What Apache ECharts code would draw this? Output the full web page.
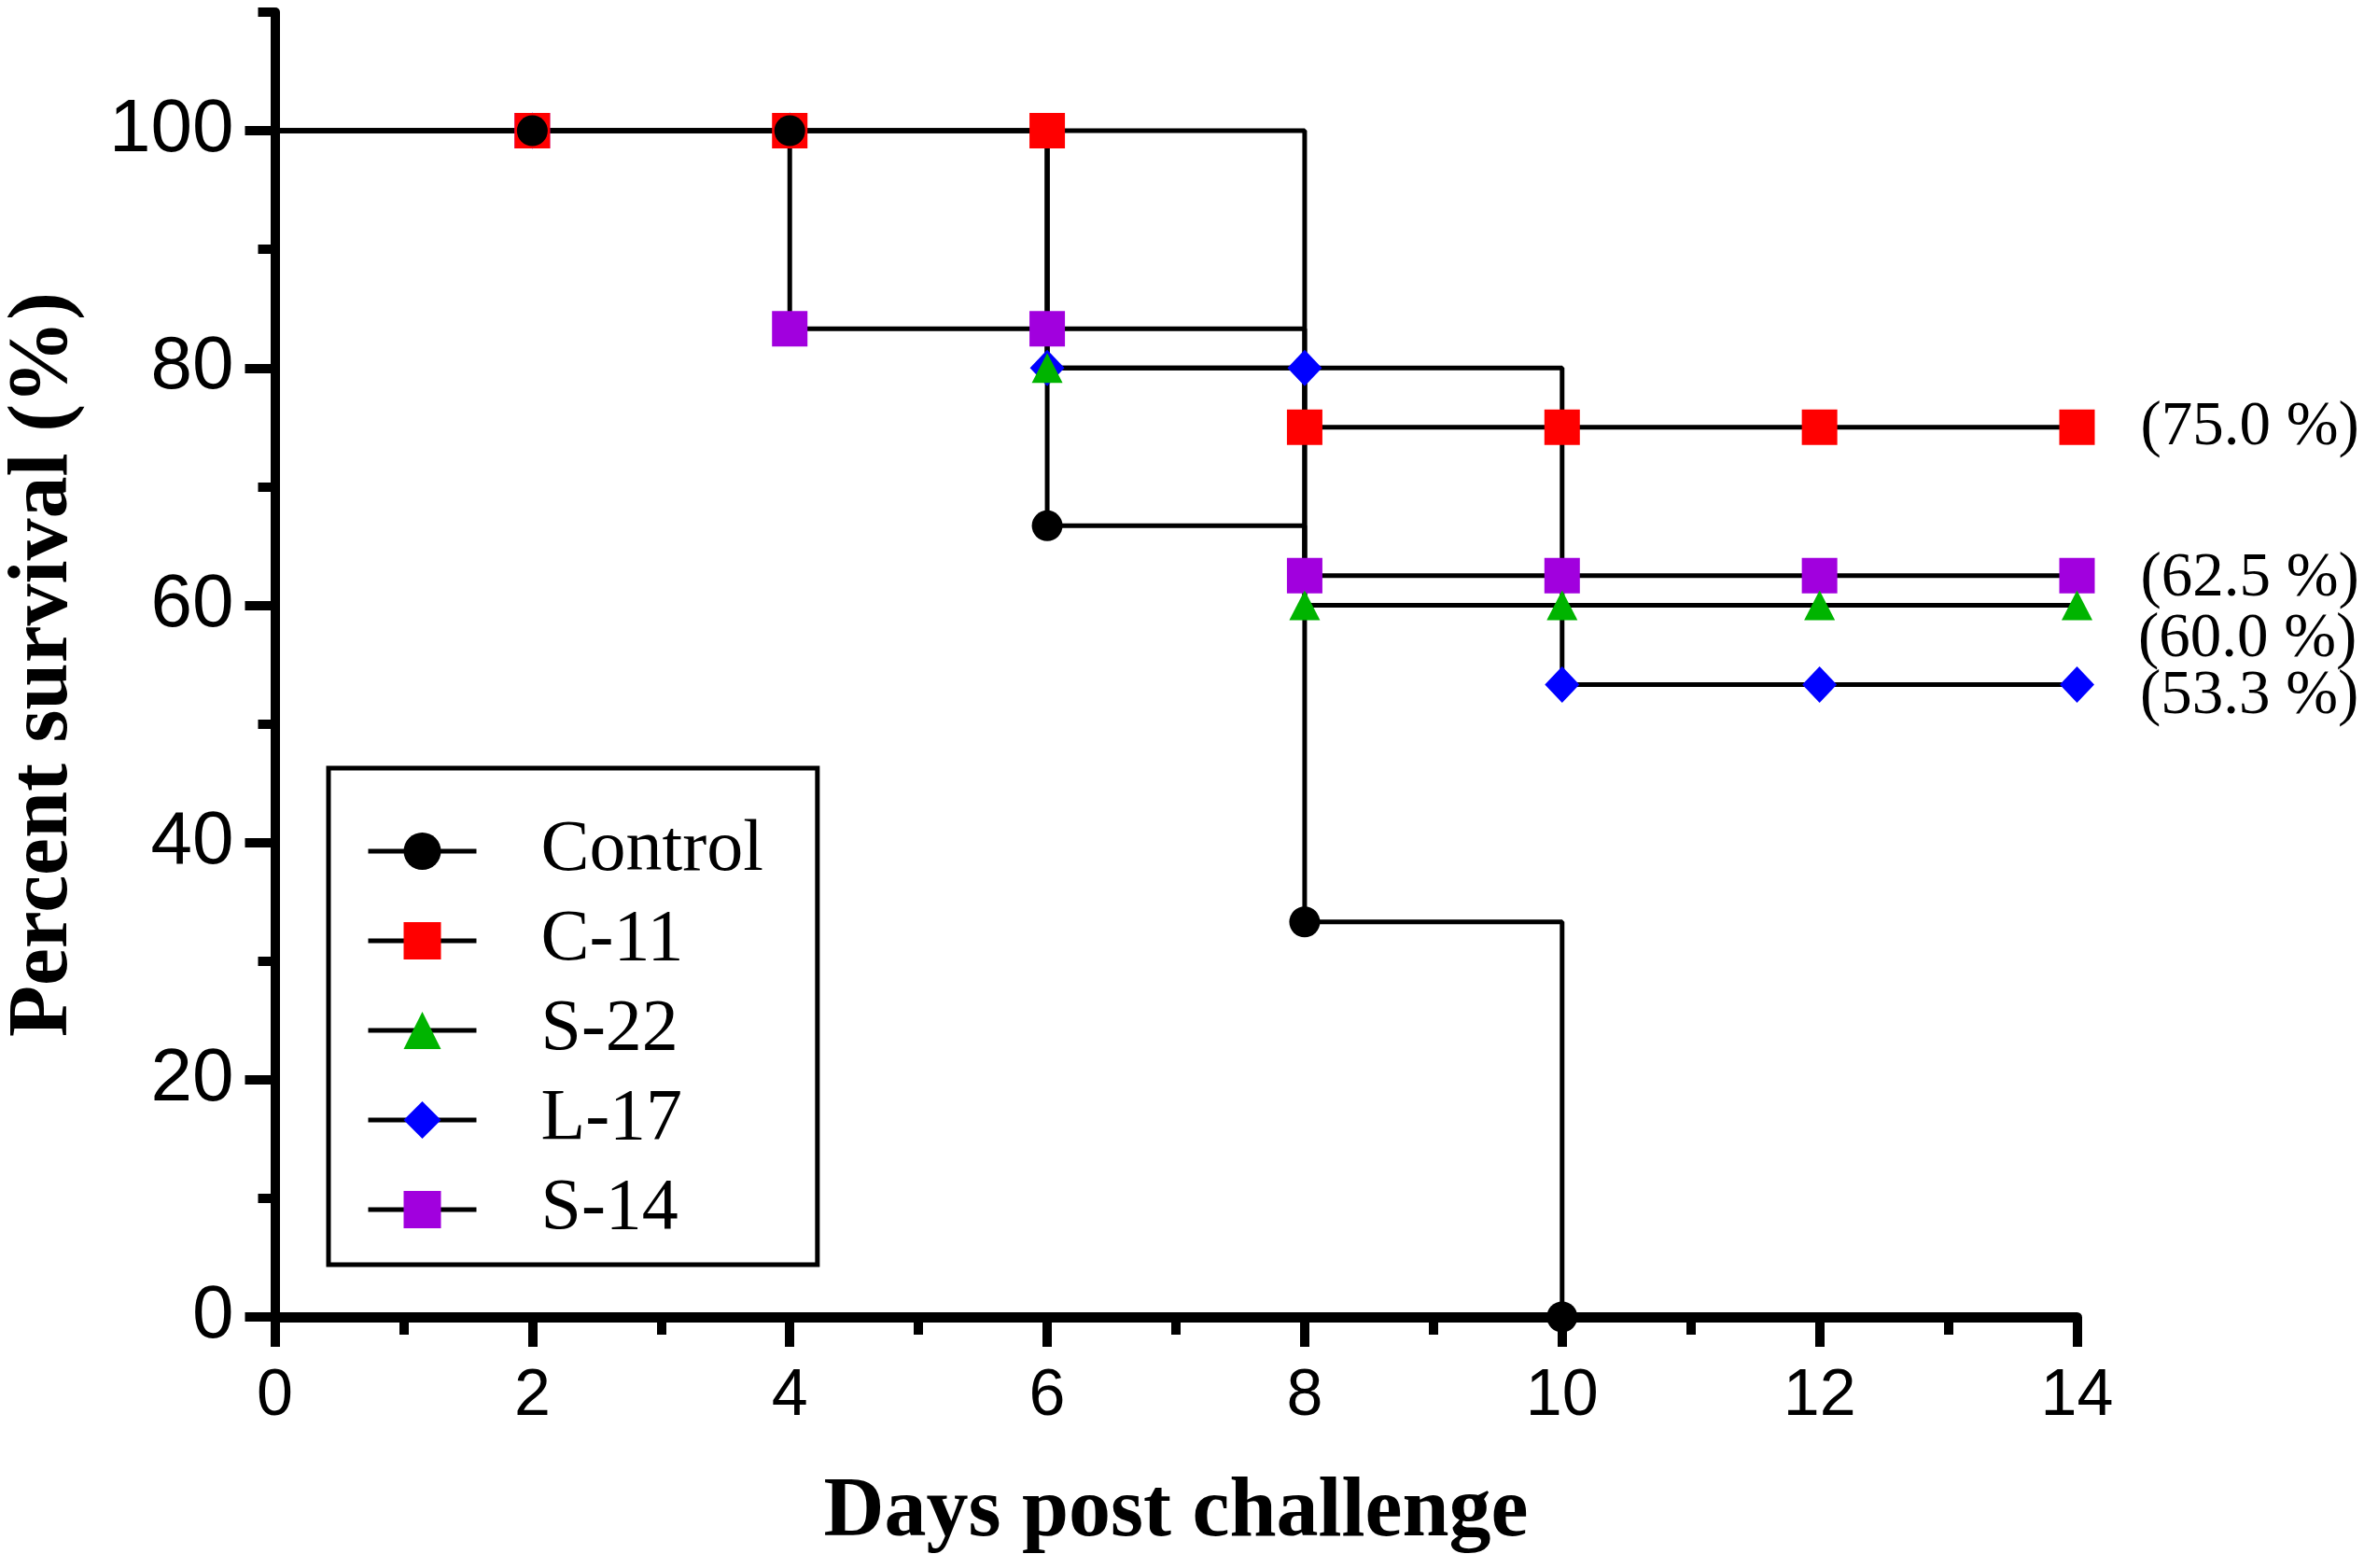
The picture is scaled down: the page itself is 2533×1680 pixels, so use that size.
<!DOCTYPE html>
<html>
<head>
<meta charset="utf-8">
<script src="https://cdn.jsdelivr.net/npm/echarts@6/dist/echarts.min.js"></script>
<style>
html,body{margin:0;padding:0;background:#fff;}
#chart{width:2533px;height:1680px;}
</style>
</head>
<body>
<div id="chart"></div>
<script>
// ---- data ----
var seriesNames = ['Control', 'C-11', 'S-22', 'L-17', 'S-14'];
var daysControl = [0, 2, 4, 6, 8, 10];
var survControl = [100, 100, 100, 66.7, 33.3, 0];
var daysC11 = [0, 2, 4, 6, 8, 10, 12, 14];
var survC11 = [100, 100, 100, 100, 75, 75, 75, 75];
var daysS22 = [0, 2, 4, 6, 8, 10, 12, 14];
var survS22 = [100, 100, 100, 80, 60, 60, 60, 60];
var daysL17 = [0, 2, 4, 6, 8, 10, 12, 14];
var survL17 = [100, 100, 100, 80, 80, 53.3, 53.3, 53.3];
var daysS14 = [0, 2, 4, 6, 8, 10, 12, 14];
var survS14 = [100, 100, 83.3, 83.3, 62.5, 62.5, 62.5, 62.5];
var endLabelTexts = ['', '(75.0 %)', '(60.0 %)', '(53.3 %)', '(62.5 %)'];
var xTickValues = [0, 2, 4, 6, 8, 10, 12, 14];
var yMajorTicks = [0, 20, 40, 60, 80, 100];
var yMinorTicks = [10, 30, 50, 70, 90, 110];

// ---- styles ----
var styleCfg = {
  'Control': {color: '#000000', symbol: 'circle', size: 33, labelOffset: [0, 0]},
  'C-11': {color: '#FF0000', symbol: 'rect', size: 38, labelOffset: [0, 1]},
  'S-22': {color: '#00B400', symbol: 'triangle', size: [33, 32], labelOffset: [0, 37]},
  'L-17': {color: '#0000FF', symbol: 'diamond', size: [37, 39], labelOffset: [0, 13]},
  'S-14': {color: '#A100DE', symbol: 'rect', size: 38, labelOffset: [0, 4]}
};
var serifFont = 'Liberation Serif';
var sansFont = 'Liberation Sans';

var allDays = [daysControl, daysC11, daysS22, daysL17, daysS14];
var allSurv = [survControl, survC11, survS22, survL17, survS14];

function buildData(idx) {
  var d = allDays[idx], v = allSurv[idx], name = seriesNames[idx];
  var out = [];
  for (var i = 0; i < d.length; i++) {
    var item = {value: [d[i], v[i]]};
    if (i === 0) item.symbol = 'none';
    if (i === d.length - 1 && endLabelTexts[idx]) {
      item.label = {
        show: true, position: 'right', distance: 49,
        formatter: endLabelTexts[idx],
        offset: styleCfg[name].labelOffset,
        fontFamily: serifFont, fontSize: 67, color: '#000'
      };
    }
    out.push(item);
  }
  return out;
}

// draw order: later series on top (Control topmost)
var drawOrder = [4, 3, 2, 1, 0];
var series = drawOrder.map(function (idx) {
  var name = seriesNames[idx];
  var c = styleCfg[name];
  return {
    name: name,
    type: 'line',
    step: 'end',
    data: buildData(idx),
    symbol: c.symbol,
    symbolSize: c.size,
    showAllSymbol: true,
    itemStyle: {color: c.color, borderWidth: 0},
    lineStyle: {color: '#000', width: 5},
    emphasis: {disabled: true},
    animation: false
  };
});

var chart = echarts.init(document.getElementById('chart'));
chart.setOption({
  backgroundColor: '#fff',
  animation: false,
  grid: {left: 294.5, right: 307.5, top: 13, bottom: 269, containLabel: false, outerBoundsMode: 'none'},
  legend: {
    data: seriesNames,
    orient: 'vertical',
    left: 352, top: 823,
    padding: [50, 58, 20, 40],
    itemGap: 18,
    itemWidth: 116,
    itemHeight: 50,
    borderColor: '#000',
    borderWidth: 5,
    lineStyle: {width: 5, color: '#000'},
    textStyle: {fontFamily: serifFont, fontSize: 78, color: '#000', padding: [0, 0, 0, 64]},
    selectedMode: false
  },
  xAxis: {
    type: 'value', min: 0, max: 14, interval: 2,
    name: 'Days post challenge', nameLocation: 'middle', nameGap: 166,
    nameTextStyle: {fontFamily: serifFont, fontWeight: 'bold', fontSize: 90, color: '#000'},
    axisLine: {show: true, onZero: false, lineStyle: {color: '#000', width: 11}},
    axisTick: {show: true, length: 32, lineStyle: {color: '#000', width: 10}},
    minorTick: {show: true, splitNumber: 2, length: 19, lineStyle: {color: '#000', width: 10}},
    axisLabel: {customValues: xTickValues, margin: 51, fontFamily: sansFont, fontSize: 70, color: '#000'},
    splitLine: {show: false}
  },
  yAxis: [{
    type: 'value', min: 0, max: 110, interval: 10, position: 'left',
    name: 'Percent survival (%)', nameLocation: 'middle', nameGap: 202,
    nameTextStyle: {fontFamily: serifFont, fontWeight: 'bold', fontSize: 90, color: '#000'},
    axisLine: {show: true, onZero: false, lineStyle: {color: '#000', width: 10}},
    axisTick: {show: true, customValues: yMajorTicks, length: 32, lineStyle: {color: '#000', width: 10}},
    axisLabel: {customValues: yMajorTicks, margin: 44, fontFamily: sansFont, fontSize: 80, color: '#000'},
    splitLine: {show: false}
  }, {
    type: 'value', min: 0, max: 110, interval: 10, position: 'left', offset: 0,
    axisLine: {show: false},
    axisTick: {show: true, customValues: yMinorTicks, length: 18, lineStyle: {color: '#000', width: 10}},
    axisLabel: {show: false},
    splitLine: {show: false}
  }],
  series: series
});
</script>
</body>
</html>
